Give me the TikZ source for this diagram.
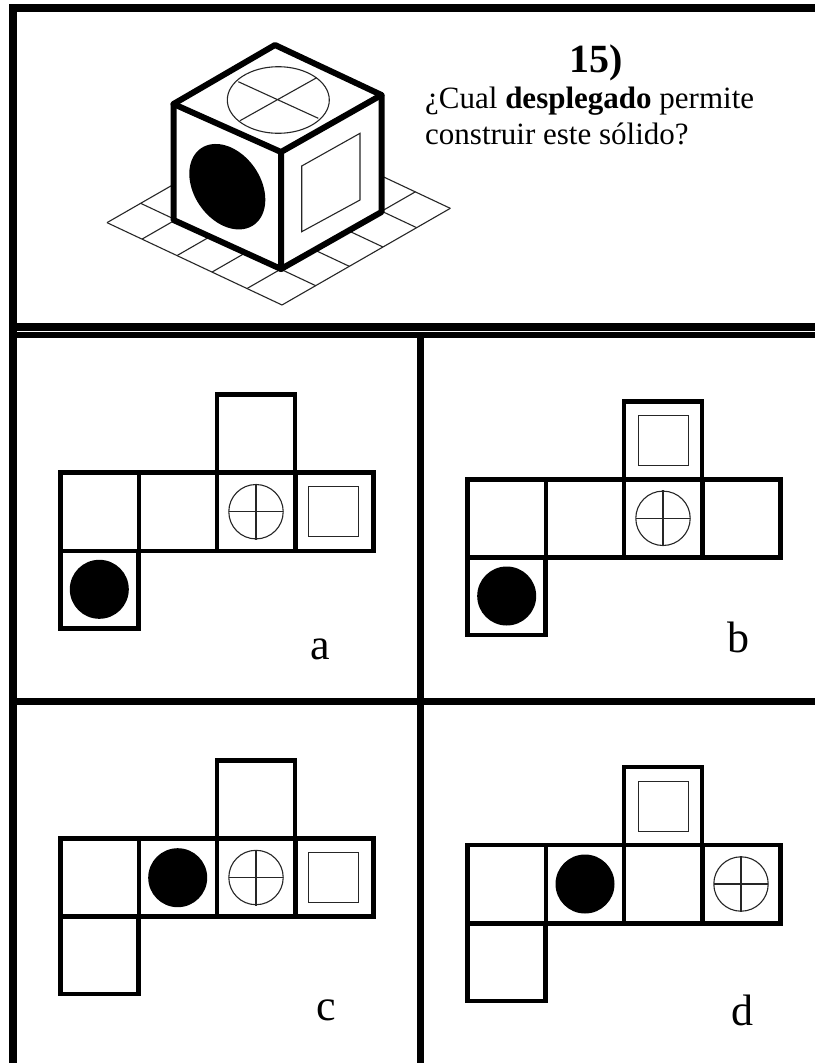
\documentclass[tikz,border=0pt]{standalone}
\usepackage{fontspec}
\setmainfont{Liberation Serif}
% net: strip top-left at (#1,#2), cell sizes measured from the reference
\newcommand{\netframe}[2]{%
  \draw[netline] (#1,#2) rectangle ++(312.5,78.2);
  \foreach \k in {1,2,3} \draw[netline] ({#1+78.2*\k},#2) -- ++(0,78.2);
  \draw[netline] ({#1+156.2},#2) -- ++(0,-78) -- ++(78.2,0) -- ++(0,78);
  \draw[netline] (#1,{#2+78.2}) -- ++(0,77.6) -- ++(78,0) -- ++(0,-77.6);
}
\newcommand{\symsq}[2]{\draw[thinline] ({#1-25.2},{#2-25}) rectangle ({#1+25.2},{#2+25});}
\newcommand{\symcross}[2]{\draw[thinline] (#1,#2) circle[radius=27.2];
  \draw[thinline] ({#1-27.2},#2) -- ({#1+27.2},#2) ({#1},{#2-28}) -- ({#1},{#2+28});}
\newcommand{\symdot}[2]{\fill (#1,#2) circle[radius=29.5];}
\tikzset{
  frameline/.style={line width=7.3pt,line cap=butt},
  netline/.style={line width=4.6pt,line join=miter,line cap=rect},
  cubeline/.style={line width=6pt,line join=round,line cap=round},
  thinline/.style={line width=1.1pt,draw=black!85},
  txt/.style={inner sep=0pt,anchor=base west,font=\fontsize{31}{31}\selectfont},
  lab/.style={inner sep=0pt,anchor=base west,font=\fontsize{44}{44}\selectfont}
}
\begin{document}
\begin{tikzpicture}[x=1pt,y=-1pt]
\useasboundingbox (0,0) rectangle (815,1063);
\fill[white] (0,0) rectangle (815,1063);
% frame
\draw[frameline] (9.3,8) -- (815,8);
\draw[frameline] (13,4.3) -- (13,1063);
\draw[frameline] (16,327) -- (815,327);
\draw[frameline,line width=6.3pt] (16,335.3) -- (815,335.3);
\draw[frameline] (420.5,338) -- (420.5,1063);
\draw[frameline] (16,701.3) -- (815,701.3);
% ground grid
\foreach \i in {0,...,5} {
  \draw[thinline] ({282-35*\i},{305-16.47*\i}) -- ++(168.3,-96.67);
  \draw[thinline] ({282+33.67*\i},{305-19.33*\i}) -- ++(-175,-82.35);
}
% cube
\coordinate (T) at (275,45);
\coordinate (LT) at (173.5,104);
\coordinate (RT) at (381.5,95);
\coordinate (C) at (281,152);
\coordinate (B) at (281,269);
\coordinate (LB) at (173.5,220);
\coordinate (RB) at (381.5,212);
\fill[white] (T) -- (RT) -- (RB) -- (B) -- (LB) -- (LT) -- cycle;
\draw[thinline] (278.3,100) ellipse[x radius=51,y radius=33.3];
\draw[thinline] (238.3,81.7) -- (318.3,118.3) (240,120.7) -- (316.7,77.7);
\fill plot[domain=0:360,samples=90] ({227.3+38*cos(\x)},{186.7+13*cos(\x)+40.7*sin(\x)}) -- cycle;
\draw[thinline] (301.7,166) -- (360,133.3) -- (360,200) -- (301.7,231.7) -- cycle;
\draw[cubeline] (T) -- (RT) -- (RB) -- (B) -- (LB) -- (LT) -- cycle;
\draw[cubeline] (LT) -- (C) -- (RT) (C) -- (B);
% heading
\node[inner sep=0pt,anchor=base west,font=\fontsize{40}{40}\selectfont\bfseries] (num) at (569,72) {15)};
\node[txt] (l1) at (425,108) {¿Cual \textbf{desplegado} permite};
\node[txt] (l2) at (425,144) {construir este sólido?};
% panel a
\netframe{60.7}{472.7}
\symcross{256}{511.7}\symsq{333.7}{511.7}\symdot{99.3}{589.3}
\node[lab] (a) at (310,659) {a};
% panel b
\netframe{467.7}{479.3}
\symsq{663.7}{440.3}\symcross{663}{518.3}\symdot{506.7}{596}
\node[lab] (b) at (727,652) {b};
% panel c
\netframe{60.7}{838.3}
\symdot{177.7}{877.7}\symcross{256}{877.5}\symsq{333.7}{877.5}
\node[lab] (c) at (316,1020) {c};
% panel d
\netframe{467.7}{845}
\symsq{663.7}{806.3}\symdot{585}{884}\symcross{741}{884}
\node[lab] (d) at (731,1025) {d};
\end{tikzpicture}
\end{document}
